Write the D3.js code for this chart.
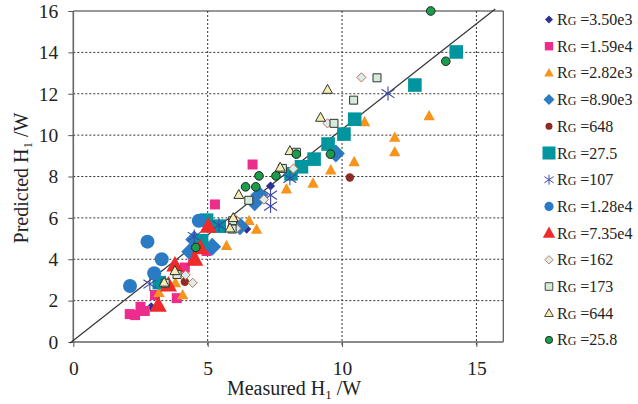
<!DOCTYPE html>
<html>
<head>
<meta charset="utf-8">
<script src="https://cdn.jsdelivr.net/npm/d3@7"></script>
<style>
  body { margin: 0; background: #fff; }
  svg { display: block; }
  text { font-family: "Liberation Serif", "Times New Roman", serif; fill: #222; }
</style>
</head>
<body>
<svg id="chart" width="638" height="404"></svg>
<script>
// ---- data: measured vs predicted H1 (W) for each RG ----
const legendLabels = ["3.50e3", "1.59e4", "2.82e3", "8.90e3", "648", "27.5", "107",
                      "1.28e4", "7.35e4", "162", "173", "644", "25.8"];

const rg3500X = [7.34, 6.45, 2.9];
const rg3500Y = [7.54, 5.46, 1.7];

const rg15900X = [6.67, 5.27, 2.1, 2.3, 2.5, 2.66, 3.04, 3.85, 4.15, 4.46, 4.96];
const rg15900Y = [8.58, 6.65, 1.35, 1.3, 1.7, 1.5, 2.27, 2.12, 3.6, 3.95, 4.4];

const rg2820X = [13.24, 10.84, 11.96, 11.96, 10.45, 9.58, 8.92, 7.93, 6.54, 6.82, 5.7, 4.07, 3.19, 3.8];
const rg2820Y = [10.93, 10.64, 9.89, 9.19, 8.71, 8.31, 7.67, 7.39, 5.86, 5.44, 4.65, 2.27, 2.38, 2.86];

const rg8900X = [9.77, 6.92, 6.75, 6.2, 5.17, 4.5, 4.35];
const rg8900Y = [9.11, 7.1, 6.75, 5.6, 4.6, 4.95, 4.36];

const rg648X = [10.29, 4.15];
const rg648Y = [7.95, 2.91];

const rg27X = [14.25, 12.71, 10.47, 10.07, 9.48, 8.96, 8.49, 8.1, 5.43, 4.96, 4.77, 3.2];
const rg27Y = [14.02, 12.42, 10.77, 10.05, 9.57, 8.84, 8.47, 8.13, 5.6, 5.89, 4.9, 2.87];

const rg107X = [11.71, 8.06, 7.34, 7.34, 5.42, 4.5, 2.85];
const rg107Y = [12.01, 7.91, 7.1, 6.57, 5.65, 5.1, 2.8];

const rg12800X = [4.67, 2.76, 3.29, 3.01, 2.11];
const rg12800Y = [5.86, 4.85, 4.0, 3.32, 2.71];

const rg73500X = [5.02, 4.72, 4.52, 3.78, 3.54, 3.16];
const rg73500Y = [5.6, 4.55, 4.0, 3.72, 2.75, 1.78];

const rg162X = [10.72, 9.46, 8.19, 7.09, 6.03, 6.07, 4.18, 4.44];
const rg162Y = [12.79, 10.57, 8.38, 6.89, 5.93, 5.49, 3.24, 2.86];

const rg173X = [11.3, 10.43, 9.7, 8.3, 7.78, 6.53, 5.93, 5.91, 3.86, 3.42];
const rg173Y = [12.77, 11.69, 10.57, 9.17, 8.39, 6.85, 5.86, 5.46, 3.26, 2.84];

const rg644X = [9.46, 9.2, 8.06, 7.7, 6.16, 5.95, 5.83, 3.78, 3.38];
const rg644Y = [12.2, 10.85, 9.24, 8.44, 7.12, 6.0, 5.5, 3.44, 2.88];

const rg25X = [13.3, 13.86, 9.57, 8.3, 6.91, 7.54, 6.41, 6.79, 4.56];
const rg25Y = [16.0, 13.57, 9.08, 9.08, 8.03, 8.03, 7.5, 7.5, 4.57];

// reference line through the cloud
const refLineX = [-0.12, 15.7];
const refLineY = [-0.05, 16.1];

const xTicks = [0, 5, 10, 15];
const yTicks = [0, 2, 4, 6, 8, 10, 12, 14, 16];

// ---- marker styles, same order as the legend ----
const styles = [
  { shape: "diamond",  size: 4.6, lsize: 4,   fill: "#2e3192", stroke: "none" },
  { shape: "square",   size: 5,   lsize: 4.2, fill: "#ec2d8c", stroke: "none" },
  { shape: "triangle", size: 6,   lsize: 5,   fill: "#f7941d", stroke: "none" },
  { shape: "diamond",  size: 9,   lsize: 5.5, fill: "#2a7bc4", stroke: "none" },
  { shape: "circle",   size: 4.2, lsize: 3.5, fill: "#8e2b24", stroke: "none" },
  { shape: "square",   size: 6.8, lsize: 6.5, fill: "#00959f", stroke: "none" },
  { shape: "asterisk", size: 7,   lsize: 5,   fill: "none",    stroke: "#3f48a8" },
  { shape: "circle",   size: 7,   lsize: 4.6, fill: "#2a7bc4", stroke: "none" },
  { shape: "triangle", size: 9,   lsize: 6.5, fill: "#ee2a2a", stroke: "none" },
  { shape: "diamond",  size: 4.6, lsize: 4.2, fill: "#d9eef4", stroke: "#c8703e" },
  { shape: "square",   size: 4,   lsize: 3.8, fill: "#d5ead8", stroke: "#333" },
  { shape: "triangle", size: 5.2, lsize: 4.6, fill: "#f4efb0", stroke: "#333" },
  { shape: "circle",   size: 4.3, lsize: 3.6, fill: "#1a9e4b", stroke: "#222" }
];

const seriesX = [rg3500X, rg15900X, rg2820X, rg8900X, rg648X, rg27X, rg107X,
                 rg12800X, rg73500X, rg162X, rg173X, rg644X, rg25X];
const seriesY = [rg3500Y, rg15900Y, rg2820Y, rg8900Y, rg648Y, rg27Y, rg107Y,
                 rg12800Y, rg73500Y, rg162Y, rg173Y, rg644Y, rg25Y];

// ---- layout ----
const svg = d3.select("#chart");
const plot = { left: 73.3, right: 503.3, top: 11, bottom: 342 };
const serif = "'Liberation Serif', 'Times New Roman', serif";

const x = d3.scaleLinear().domain([0, 16]).range([plot.left, plot.right]);
const y = d3.scaleLinear().domain([0, 16]).range([plot.bottom, plot.top]);

function markerPath(shape, s) {
  switch (shape) {
    case "diamond":
      return `M0,${-s}L${s},0L0,${s}L${-s},0Z`;
    case "square":
      return `M${-s},${-s}H${s}V${s}H${-s}Z`;
    case "triangle":
      return `M0,${-s}L${s * 0.95},${s * 0.72}L${-s * 0.95},${s * 0.72}Z`;
    case "circle":
      return `M${s},0A${s},${s} 0 1,1 ${-s},0A${s},${s} 0 1,1 ${s},0Z`;
    case "asterisk": {
      const d = s * 0.92;
      return `M0,${-s}V${s}M${-d},${-s * 0.62}L${d},${s * 0.62}M${-d},${s * 0.62}L${d},${-s * 0.62}`;
    }
  }
}

// grid (dotted)
const grid = svg.append("g").attr("stroke", "#333").attr("stroke-width", 1)
  .attr("stroke-dasharray", "2,2").attr("fill", "none");
grid.selectAll("line.gx").data(xTicks.filter(d => d > 0)).join("line")
  .attr("x1", d => x(d)).attr("x2", d => x(d))
  .attr("y1", plot.top).attr("y2", plot.bottom + 5);
grid.selectAll("line.gy").data(yTicks.filter(d => d > 0 && d < 16)).join("line")
  .attr("x1", plot.left).attr("x2", plot.right)
  .attr("y1", d => y(d)).attr("y2", d => y(d));

// frame: top and right
svg.append("line").attr("x1", plot.left).attr("x2", plot.right)
  .attr("y1", plot.top).attr("y2", plot.top).attr("stroke", "#333").attr("stroke-width", 1.2);
svg.append("line").attr("x1", plot.right).attr("x2", plot.right)
  .attr("y1", plot.top).attr("y2", plot.bottom).attr("stroke", "#555").attr("stroke-width", 1.2);

// axes
const yAxis = d3.axisLeft(y).tickValues(yTicks).tickSize(5).tickPadding(10)
  .tickFormat(d3.format("d"));
const xAxis = d3.axisBottom(x).tickValues(xTicks).tickSize(5).tickPadding(14)
  .tickFormat(d3.format("d"));

const gy = svg.append("g").attr("transform", `translate(${plot.left},0)`).call(yAxis);
const gx = svg.append("g").attr("transform", `translate(0,${plot.bottom})`).call(xAxis);
[gx, gy].forEach(g => {
  g.attr("font-family", serif);
  g.select(".domain").attr("stroke", "#666").attr("stroke-width", 1.6);
  g.selectAll(".tick line").attr("stroke", "#555");
  g.selectAll(".tick text").attr("font-size", 19.5)
    .attr("font-family", serif).attr("fill", "#222");
});
gy.select(".domain").attr("d", `M-0,${plot.top}V${plot.bottom}`);
gx.select(".domain").attr("d", `M${plot.left},0H${plot.right}`);

// reference line
svg.append("path")
  .datum(refLineX.map((v, i) => [v, refLineY[i]]))
  .attr("d", d3.line().x(d => x(d[0])).y(d => y(d[1])))
  .attr("stroke", "#333").attr("stroke-width", 1.2).attr("fill", "none");

// points
styles.forEach((st, i) => {
  const pts = seriesX[i].map((v, j) => [v, seriesY[i][j]]);
  svg.append("g").selectAll("path").data(pts).join("path")
    .attr("transform", d => `translate(${x(d[0])},${y(d[1])})`)
    .attr("d", markerPath(st.shape, st.size))
    .attr("fill", st.fill)
    .attr("stroke", st.stroke)
    .attr("stroke-width", st.shape === "asterisk" ? 1.1 : 1);
});

// axis titles
const xTitle = svg.append("text").attr("x", 294).attr("y", 395)
  .attr("text-anchor", "middle").attr("font-size", 20).attr("font-family", serif);
xTitle.append("tspan").text("Measured H");
xTitle.append("tspan").attr("font-size", 13).attr("dy", 4).text("1");
xTitle.append("tspan").attr("dy", -4).text(" /W");

const yTitle = svg.append("text")
  .attr("transform", "translate(28,178) rotate(-90)")
  .attr("text-anchor", "middle").attr("font-size", 20).attr("font-family", serif);
yTitle.append("tspan").text("Predicted H");
yTitle.append("tspan").attr("font-size", 13).attr("dy", 4).text("1");
yTitle.append("tspan").attr("dy", -4).text(" /W");

// legend
const legend = svg.append("g");
legendLabels.forEach((lab, i) => {
  const st = styles[i];
  const cy = 19.5 + i * 26.7;
  legend.append("path")
    .attr("transform", `translate(549,${cy})`)
    .attr("d", markerPath(st.shape, st.lsize))
    .attr("fill", st.fill).attr("stroke", st.stroke)
    .attr("stroke-width", st.shape === "asterisk" ? 1 : 0.9);
  const t = legend.append("text").attr("x", 557).attr("y", cy + 5.5)
    .attr("font-size", 16).attr("font-family", serif);
  t.append("tspan").text("R");
  t.append("tspan").attr("font-size", 12).text("G");
  t.append("tspan").text(" =" + lab);
});
</script>
</body>
</html>
